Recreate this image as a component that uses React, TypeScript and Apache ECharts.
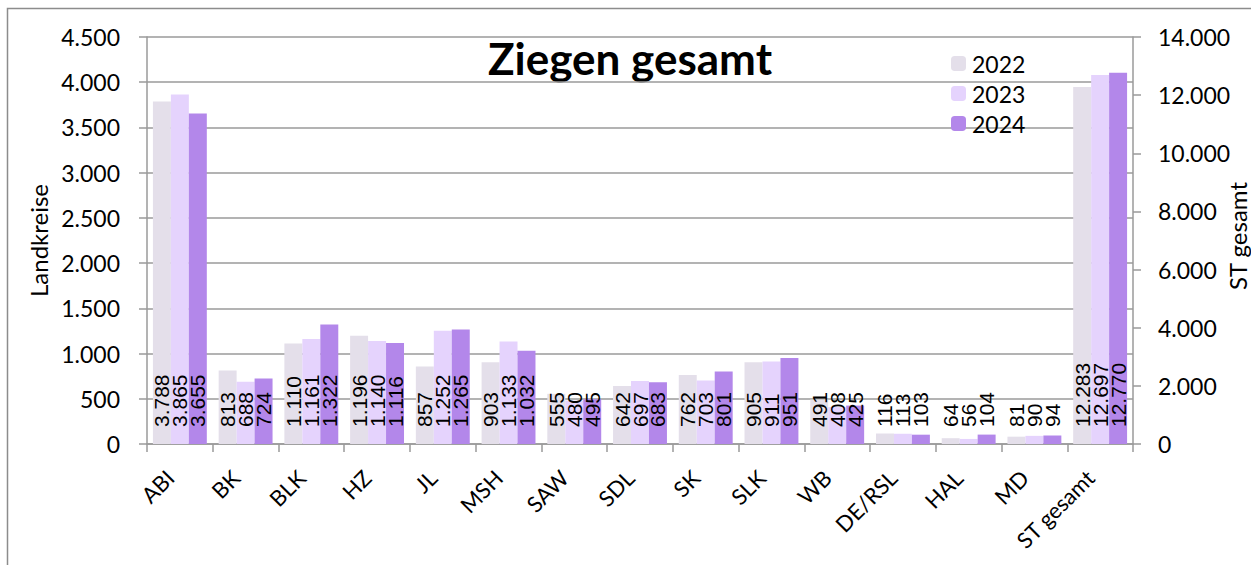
import React, { useEffect, useRef } from "react";
import * as echarts from "echarts";

const categories = ["ABI", "BK", "BLK", "HZ", "JL", "MSH", "SAW", "SDL", "SK", "SLK", "WB", "DE/RSL", "HAL", "MD", "ST gesamt"];
const years = ["2022", "2023", "2024"];
const values2022 = [3788, 813, 1110, 1196, 857, 903, 555, 642, 762, 905, 491, 116, 64, 81, 12283];
const values2023 = [3865, 688, 1161, 1140, 1252, 1133, 480, 697, 703, 911, 408, 113, 56, 90, 12697];
const values2024 = [3655, 724, 1322, 1116, 1265, 1032, 495, 683, 801, 951, 425, 103, 104, 94, 12770];
const colors = ["#E4DFEA", "#E5D3FD", "#B387EA"];
const totalCategory = "ST gesamt";
const leftAxisName = "Landkreise";
const rightAxisName = "ST gesamt";
const chartTitle = "Ziegen gesamt";

const fmt = (v: number) => String(Math.round(v)).replace(/\B(?=(\d{3})+(?!\d))/g, ".");

export default function App() {
  const ref = useRef<HTMLDivElement>(null);
  useEffect(() => {
    if (!ref.current) return;
    const chart = echarts.init(ref.current, null, { renderer: "svg" });
    const all = [values2022, values2023, values2024];
    const totalIdx = categories.indexOf(totalCategory);
    const label = {
      show: true,
      position: "insideBottom",
      rotate: 90,
      align: "left",
      verticalAlign: "middle",
      distance: 17,
      color: "#000",
      fontFamily: "Liberation Sans",
      fontSize: 21,
      formatter: (p: any) => fmt(p.value),
    };
    const series: any[] = [];
    years.forEach((y, i) => {
      series.push({
        name: y,
        type: "bar",
        xAxisIndex: 0,
        yAxisIndex: 0,
        barGap: "0%",
        barCategoryGap: "18%",
        itemStyle: { color: colors[i] },
        label,
        data: all[i].map((v, j) => (j === totalIdx ? "-" : v)),
      });
    });
    years.forEach((y, i) => {
      series.push({
        name: y,
        type: "bar",
        xAxisIndex: 1,
        yAxisIndex: 1,
        barGap: "0%",
        barCategoryGap: "18%",
        itemStyle: { color: colors[i] },
        label,
        data: all[i].map((v, j) => (j === totalIdx ? v : "-")),
      });
    });
    const axisGray = "#9a9a9a";
    const font = "Lato";
    chart.setOption({
      animation: false,
      textStyle: { fontFamily: font },
      grid: { left: 147, right: 118, top: 37, bottom: 121, outerBoundsMode: "none", containLabel: false },
      legend: {
        data: years,
        orient: "vertical",
        left: 951,
        top: 52,
        itemWidth: 15,
        itemHeight: 15,
        itemGap: 7,
        padding: 0,
        textStyle: { fontSize: 23, color: "#000", fontFamily: font, padding: [0, 0, 0, 1] },
      },
      graphic: [
        {
          type: "rect",
          shape: { x: 7.5, y: 8.5, width: 1300, height: 600 },
          style: { fill: "none", stroke: "#8c8c8c", lineWidth: 1.5 },
          silent: true,
        },
        {
          type: "text",
          x: 630,
          y: 58,
          style: {
            text: chartTitle,
            font: "bold 44px Lato",
            fill: "#000",
            textAlign: "center",
            textVerticalAlign: "middle",
          },
        },
        {
          type: "text",
          x: 1237,
          y: 236,
          rotation: Math.PI / 2,
          style: {
            text: rightAxisName,
            font: "24px Lato",
            fill: "#000",
            textAlign: "center",
            textVerticalAlign: "middle",
          },
        },
      ],
      xAxis: [
        {
          type: "category",
          data: categories,
          axisLine: { lineStyle: { color: axisGray, width: 1.5 } },
          axisTick: { show: true, length: 8, lineStyle: { color: axisGray, width: 1.5 } },
          axisLabel: { rotate: 45, fontSize: 22, color: "#000", margin: 20, interval: 0, padding: [0, 14, 0, 0] },
        },
        {
          type: "category",
          data: categories,
          show: false,
        },
      ],
      yAxis: [
        {
          type: "value",
          min: 0,
          max: 4500,
          interval: 500,
          name: leftAxisName,
          nameLocation: "middle",
          nameGap: 96,
          nameRotate: 90,
          nameTextStyle: { fontSize: 24, color: "#000" },
          axisLine: { show: true, lineStyle: { color: axisGray, width: 1.5 } },
          axisTick: { show: true, length: 8, lineStyle: { color: axisGray, width: 1.5 } },
          axisLabel: { fontSize: 23, color: "#000", margin: 27, formatter: (v: number) => fmt(v) },
          splitLine: { show: true, lineStyle: { color: axisGray, width: 1.5 } },
        },
        {
          type: "value",
          min: 0,
          max: 14000,
          interval: 2000,
          position: "right",
          axisLine: { show: true, lineStyle: { color: axisGray, width: 1.5 } },
          axisTick: { show: true, length: 8, lineStyle: { color: axisGray, width: 1.5 } },
          axisLabel: { fontSize: 23, color: "#000", margin: 25, formatter: (v: number) => fmt(v) },
          splitLine: { show: false },
        },
      ],
      series,
    });
    return () => chart.dispose();
  }, []);
  return (
    <div
      ref={ref}
      style={{ position: "absolute", left: 0, top: 0, width: 1251, height: 565, background: "#fff" }}
    />
  );
}
